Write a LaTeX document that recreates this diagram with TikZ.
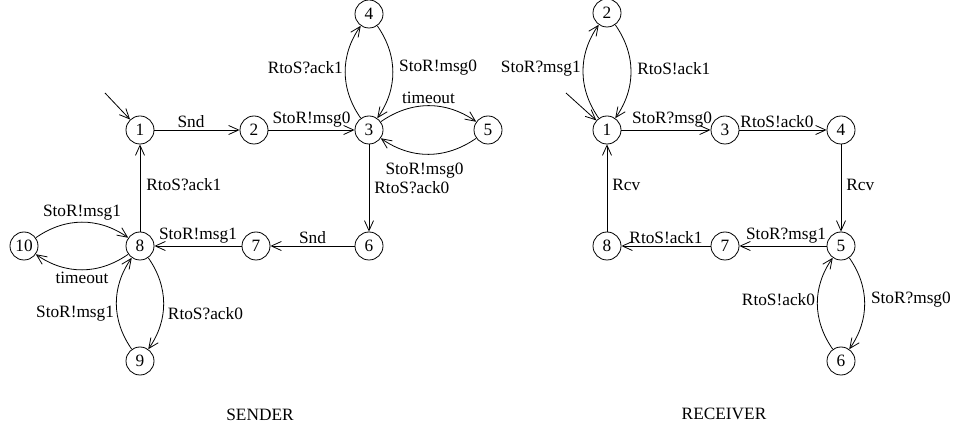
\documentclass[tikz,border=0pt]{standalone}
\usepackage{fontspec}
\setmainfont{Liberation Serif}
\usetikzlibrary{arrows.meta}
\begin{document}
\begin{tikzpicture}[x=1pt,y=-1pt,
  state/.style={circle,draw,minimum size=28pt,inner sep=0pt,line width=0.8pt},
  tr/.style={draw,line width=0.8pt,-{Straight Barb[length=10pt,width=9pt]}},
  bl/.style={bend left=35},
  lb/.style={inner sep=2pt},
  font=\fontsize{17.3}{20}\selectfont]
\useasboundingbox (0,0) rectangle (954,430);
% sender states
\node[state] (s1) at (140,130) {1};
\node[state] (s2) at (254,130) {2};
\node[state] (s3) at (369,130) {3};
\node[state] (s4) at (369,14) {4};
\node[state] (s5) at (488,130) {5};
\node[state] (s6) at (369,246) {6};
\node[state] (s7) at (256,246) {7};
\node[state] (s8) at (140,246) {8};
\node[state] (s9) at (140,361) {9};
\node[state] (s10) at (24,246) {10};
\coordinate (si) at (105,93);
% sender transitions
\draw[tr] (si) -- (s1);
\draw[tr] (s1) -- node[lb,above,xshift=-6pt] {Snd} (s2);
\draw[tr] (s2) -- node[lb,above] {StoR!msg0} (s3);
\draw[tr,bl] (s3) to node[lb,left,yshift=4pt] {RtoS?ack1} (s4);
\draw[tr,bl] (s4) to node[lb,right,xshift=4pt,yshift=4pt] {StoR!msg0} (s3);
\draw[tr,bl] (s3) to node[lb,above] {timeout} (s5);
\draw[tr,bl] (s5) to node[lb,below,xshift=-4pt,yshift=-6pt] {StoR!msg0} (s3);
\draw[tr] (s3) -- node[lb,right,xshift=3pt] {RtoS?ack0} (s6);
\draw[tr] (s6) -- node[lb,above] {Snd} (s7);
\draw[tr] (s7) -- node[lb,above] {StoR!msg1} (s8);
\draw[tr] (s8) -- node[lb,right,xshift=4pt,yshift=3pt] {RtoS?ack1} (s1);
\draw[tr,bl] (s10) to node[lb,above] {StoR!msg1} (s8);
\draw[tr,bl] (s8) to node[lb,below] {timeout} (s10);
\draw[tr,bl] (s8) to node[lb,right,xshift=2pt,yshift=-10pt] {RtoS?ack0} (s9);
\draw[tr,bl] (s9) to node[lb,left,yshift=-10pt] {StoR!msg1} (s8);
% receiver states
\node[state] (r1) at (607,130) {1};
\node[state] (r2) at (607,13) {2};
\node[state] (r3) at (725,130) {3};
\node[state] (r4) at (841,130) {4};
\node[state] (r5) at (841,246) {5};
\node[state] (r6) at (841,361) {6};
\node[state] (r7) at (725,246) {7};
\node[state] (r8) at (607,246) {8};
\coordinate (ri) at (566,93);
% receiver transitions
\draw[tr] (ri) -- (r1);
\draw[tr,bl] (r1) to node[lb,left,yshift=3pt] {StoR?msg1} (r2);
\draw[tr,bl] (r2) to node[lb,right,xshift=4pt,yshift=3pt] {RtoS!ack1} (r1);
\draw[tr] (r1) -- node[lb,above,xshift=6pt] {StoR?msg0} (r3);
\draw[tr] (r3) -- node[lb,above,xshift=-6pt] {RtoS!ack0} (r4);
\draw[tr] (r4) -- node[lb,right,xshift=3pt,yshift=3pt] {Rcv} (r5);
\draw[tr] (r5) -- node[lb,above,xshift=3pt] {StoR?msg1} (r7);
\draw[tr] (r7) -- node[lb,above] {RtoS!ack1} (r8);
\draw[tr] (r8) -- node[lb,right,xshift=3pt,yshift=3pt] {Rcv} (r1);
\draw[tr,bl] (r5) to node[lb,right,xshift=4pt,yshift=4pt] {StoR?msg0} (r6);
\draw[tr,bl] (r6) to node[lb,left,yshift=4pt] {RtoS!ack0} (r5);
% titles
\node (tsend) at (260,415) {SENDER};
\node (trecv) at (724,414) {RECEIVER};
\end{tikzpicture}
\end{document}
